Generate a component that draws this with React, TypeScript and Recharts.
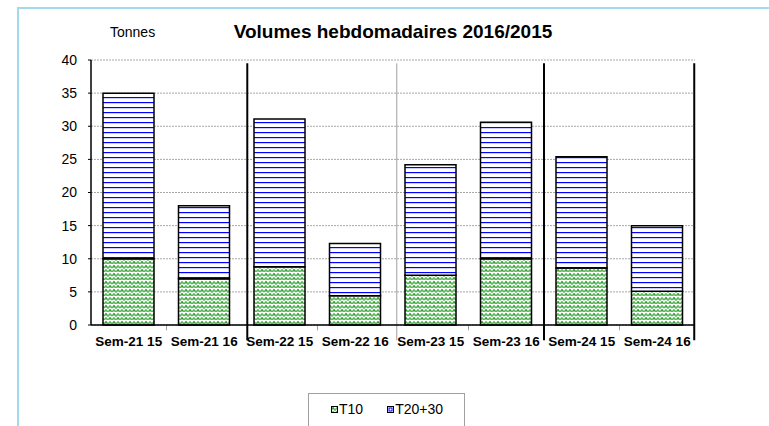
import { BarChart, Bar, XAxis, YAxis, CartesianGrid, ReferenceLine } from "recharts";

// semaines / années
const weeks = ["Sem-21 15", "Sem-21 16", "Sem-22 15", "Sem-22 16", "Sem-23 15", "Sem-23 16", "Sem-24 15", "Sem-24 16"];
const t10 = [10, 7, 8.8, 4.4, 7.5, 10, 8.6, 5.1];
const t2030 = [25, 11, 22.3, 7.9, 16.7, 20.6, 16.8, 9.9];
const yTicks = [0, 5, 10, 15, 20, 25, 30, 35, 40];
const boundaryTicks = [1, 3, 5, 7];

// séparateurs entre semaines
const separators = [
  { x: 2.07, color: "#000", width: 2 },
  { x: 4.05, color: "#a0a0a0", width: 1 },
  { x: 6, color: "#000", width: 2 },
  { x: 7.99, color: "#000", width: 2 },
];

const data = weeks.map((name, i) => ({ name, pos: i + 0.5, T10: t10[i], T2030: t2030[i] }));

const FONT = "'Liberation Sans', Arial, sans-serif";

const LegendBox = () => (
  <div
    style={{
      position: "absolute",
      left: 308,
      top: 393,
      width: 157,
      height: 40,
      border: "1px solid #a0a0a0",
      boxSizing: "border-box",
      fontFamily: FONT,
      fontSize: 14,
      color: "#000",
      display: "flex",
      alignItems: "flex-start",
      paddingTop: 7,
      paddingLeft: 22,
    }}
  >
    <svg width={7} height={7} style={{ marginTop: 5, marginRight: 1 }}>
      <rect x={0.5} y={0.5} width={6} height={6} fill="url(#pT10)" stroke="#000" />
    </svg>
    <span>T10</span>
    <svg width={7} height={7} style={{ marginTop: 5, marginRight: 1, marginLeft: 24 }}>
      <rect x={0.5} y={0.5} width={6} height={6} fill="#fff" stroke="#000" />
      <rect x={2} y={2} width={3} height={3} fill="none" stroke="#0000ff" />
    </svg>
    <span>T20+30</span>
  </div>
);

export default function App() {
  return (
    <div style={{ position: "absolute", left: 0, top: 0, width: 769, height: 426, background: "#fff", overflow: "hidden" }}>
      <div
        style={{
          position: "absolute",
          left: 17,
          top: 7,
          width: 800,
          height: 460,
          border: "2px solid #a3d9ee",
        }}
      />
      <div style={{ position: "absolute", left: 110, top: 24, fontFamily: FONT, fontSize: 14 }}>Tonnes</div>
      <div
        style={{
          position: "absolute",
          left: 193,
          width: 400,
          top: 21,
          textAlign: "center",
          fontFamily: FONT,
          fontSize: 19,
          fontWeight: "bold",
        }}
      >
        Volumes hebdomadaires 2016/2015
      </div>
      <BarChart
        width={769}
        height={426}
        data={data}
        margin={{ top: 60, right: 74, bottom: 71, left: 61 }}
        style={{ position: "absolute", left: 0, top: 0 }}
      >
        <defs>
          <pattern id="pT10" patternUnits="userSpaceOnUse" width={8} height={8}>
            <rect width={8} height={8} fill="#fff" />
            <path d="M0 4 L2 2 L4 4 L6 2 L8 4" fill="none" stroke="#5cb85c" strokeWidth={1.6} />
            <path d="M0 8 L2 6 L4 8 L6 6 L8 8" fill="none" stroke="#5cb85c" strokeWidth={1.6} />
            <rect x={1.5} y={1.5} width={1.2} height={1.2} fill="#0b7a0b" />
            <rect x={5.5} y={5.5} width={1.2} height={1.2} fill="#0b7a0b" />
          </pattern>
          <pattern id="pT2030" patternUnits="userSpaceOnUse" width={8} height={5}>
            <rect width={8} height={5} fill="#fff" />
            <rect y={2} width={8} height={1.2} fill="#0000ff" />
          </pattern>
        </defs>
        <CartesianGrid vertical={false} stroke="#a8a8a8" strokeDasharray="2 1" />
        <XAxis
          xAxisId="num"
          dataKey="pos"
          type="number"
          domain={[0, 8]}
          allowDataOverflow
          hide
          height={0}
        />
        <XAxis
          dataKey="name"
          interval={0}
          tickLine={false}
          axisLine={{ stroke: "#000", strokeWidth: 1.5 }}
          tick={{ fontFamily: FONT, fontSize: 13.5, fontWeight: "bold", fill: "#000" }}
          tickMargin={5}
          height={30}
        />
        <YAxis
          domain={[0, 40]}
          ticks={yTicks}
          width={30}
          axisLine={{ stroke: "#000", strokeWidth: 1.5 }}
          tickLine={{ stroke: "#000" }}
          tickSize={3}
          tickMargin={11}
          tick={{ fontFamily: FONT, fontSize: 14, fill: "#000" }}
        />
        <Bar dataKey="T10" name="T10" stackId="a" fill="url(#pT10)" stroke="#000" strokeWidth={1.5} barSize={51} isAnimationActive={false} />
        <Bar dataKey="T2030" name="T20+30" stackId="a" fill="url(#pT2030)" stroke="#000" strokeWidth={1.5} barSize={51} isAnimationActive={false} />
        {boundaryTicks.map((b) => (
          <ReferenceLine
            key={`t${b}`}
            xAxisId="num"
            segment={[
              { x: b, y: 0 },
              { x: b, y: -0.8 },
            ]}
            stroke="#a0a0a0"
            ifOverflow="visible"
          />
        ))}
        {separators.map((s) => (
          <ReferenceLine
            key={s.x}
            xAxisId="num"
            segment={[
              { x: s.x, y: -2.3 },
              { x: s.x, y: 39.5 },
            ]}
            stroke={s.color}
            strokeWidth={s.width}
            ifOverflow="visible"
          />
        ))}
      </BarChart>
      <LegendBox />
    </div>
  );
}
